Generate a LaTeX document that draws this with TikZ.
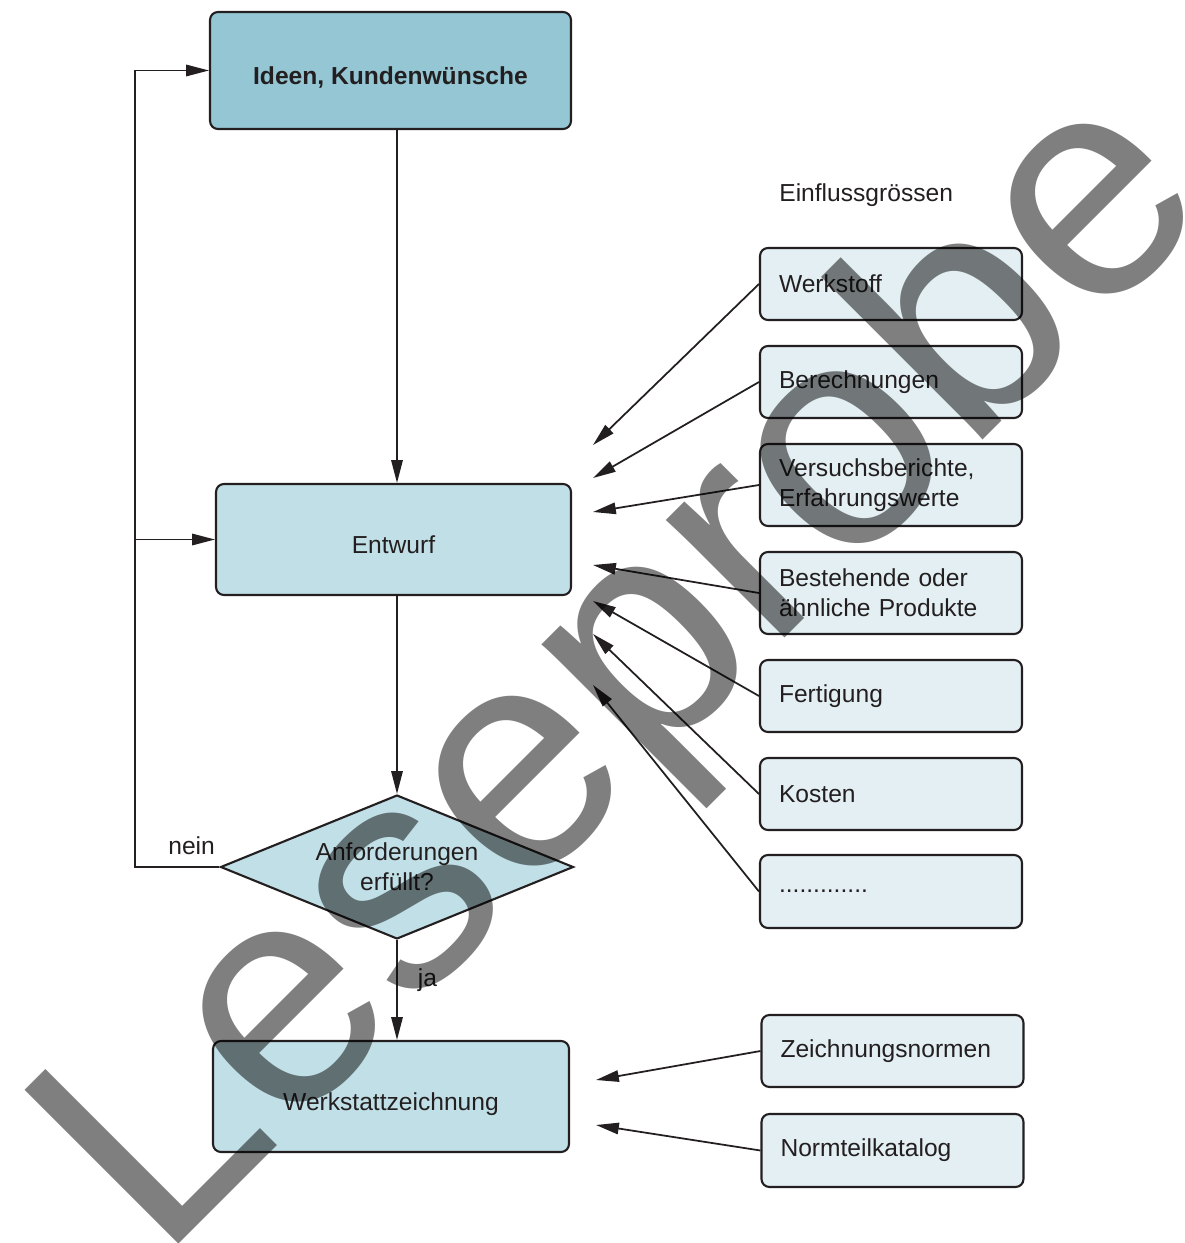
\documentclass[tikz,border=0pt]{standalone}
\usepackage{fontspec}
\setmainfont{Liberation Sans}
\usetikzlibrary{arrows.meta}
\usetikzlibrary{shapes.geometric}
\definecolor{linie}{HTML}{231F20}
\definecolor{dunkelblau}{HTML}{94C6D4}
\definecolor{hellblau}{HTML}{C1DFE6}
\definecolor{blass}{HTML}{E3EFF3}
\newcommand{\txt}{\fontsize{14}{17}\selectfont}
\tikzset{
  kasten/.style={draw=linie, line width=1.2pt, rounded corners=4.5pt, text=linie, font=\txt},
  schritt/.style={kasten, fill=hellblau, minimum width=7.1cm, minimum height=2.22cm, text height=15.5pt, text depth=0pt},
  einfluss/.style={kasten, fill=blass, minimum height=1.44cm, text width=4.48cm, inner xsep=0.38cm, align=left},
  frage/.style={shape=diamond, draw=linie, line width=1.2pt, fill=hellblau, aspect=2.45, minimum width=7.06cm, minimum height=2.88cm, inner sep=0pt, align=center, text=linie, font=\txt},
  pfeil/.style={draw=linie, line width=1pt, -{Triangle[length=13pt,width=6.5pt]}},
}

\begin{document}
\begin{tikzpicture}[x=0.02cm, y=-0.02cm]
    \useasboundingbox (0,0) rectangle (1184,1243);
    % Hauptablauf
    \node[kasten, fill=dunkelblau, minimum width=7.22cm, minimum height=2.34cm, text height=15.5pt, text depth=0pt, font=\txt\bfseries] (idee) at (390.5,70.5) {Ideen, Kundenwünsche};
    \node[schritt] (entwurf) at (393.5,539.5) {Entwurf};
    \node[frage] (pruef) at (397,867) {Anforderungen\\erfüllt?};
    \node[schritt, minimum width=7.12cm] (werkstatt) at (391,1096.5) {Werkstattzeichnung};
    \coordinate (ruck) at (135,867);
    % Einflussgroessen
    \node[text=linie, font=\txt, anchor=west, inner sep=0pt] (titel) at (779,195) {Einflussgrössen};
    \node[einfluss] (werkstoff) at (891,284) {Werkstoff};
    \node[einfluss] (rechnung) at (891,382) {Berechnungen};
    \node[einfluss, minimum height=1.64cm] (versuch) at (891,485) {Versuchsberichte,\\Erfahrungswerte};
    \node[einfluss, minimum height=1.64cm] (bestand) at (891,593) {Bestehende oder\\ähnliche Produkte};
    \node[einfluss] (fertigung) at (891,696) {Fertigung};
    \node[einfluss] (kosten) at (891,794) {Kosten};
    \node[einfluss, minimum height=1.46cm] (weitere) at (891,891.5) {.............};
    \node[einfluss] (normen) at (892.5,1051) {Zeichnungsnormen};
    \node[einfluss, minimum height=1.46cm] (katalog) at (892.5,1150.5) {Normteilkatalog};
    % Pfeilspitzen vor dem Entwurf
    \coordinate (e1) at (593,445);
    \coordinate (e2) at (593,478);
    \coordinate (e3) at (593,512);
    \coordinate (e4) at (593,565);
    \coordinate (e5) at (593,601);
    \coordinate (e6) at (593,634);
    \coordinate (e7) at (593,685);
    \coordinate (w1) at (596,1080);
    \coordinate (w2) at (596,1125);
    % Verbindungen
    \draw[pfeil] (idee.south -| pruef.north) -- (entwurf.north -| pruef.north);
    \draw[pfeil] (entwurf.south -| pruef.north) -- (pruef.north);
    \draw[pfeil] (pruef.south) -- node[right, text=linie, font=\txt, pos=0.4, xshift=8pt] {ja} (werkstatt.north -| pruef.south);
    \draw[pfeil] (pruef.west) -- node[above, text=linie, font=\txt, pos=0.33, yshift=3pt] {nein} (ruck) |- (idee.west);
    \draw[pfeil] (ruck |- entwurf.west) -- (entwurf.west);
    \draw[pfeil] (werkstoff.west) -- (e1);
    \draw[pfeil] (rechnung.west) -- (e2);
    \draw[pfeil] (versuch.west) -- (e3);
    \draw[pfeil] (bestand.west) -- (e4);
    \draw[pfeil] (fertigung.west) -- (e5);
    \draw[pfeil] (kosten.west) -- (e6);
    \draw[pfeil] (weitere.west) -- (e7);
    \draw[pfeil] (normen.west) -- (w1);
    \draw[pfeil] (katalog.west) -- (w2);
    % Wasserzeichen
    \node[anchor=base west, rotate=45, inner sep=0pt, text=black, text opacity=0.5, font=\fontsize{180}{180}\selectfont] (probe) at (160,1263) {Leseprobe};
\end{tikzpicture}
\end{document}
